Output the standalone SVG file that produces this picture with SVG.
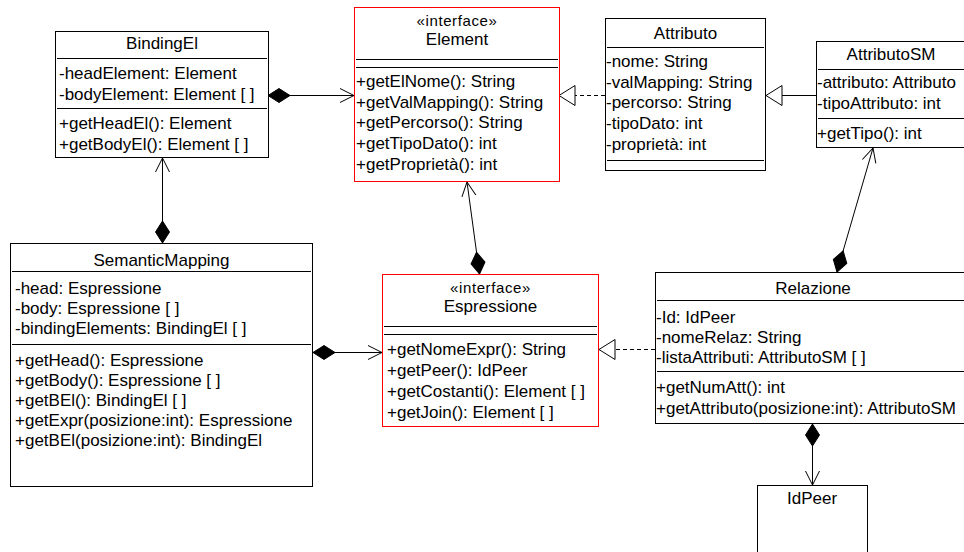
<svg xmlns="http://www.w3.org/2000/svg" width="964" height="552" viewBox="0 0 964 552">
<style>
  text { font-family: "Liberation Sans", Arial, sans-serif; font-size: 17px; fill: #000; }
  .t { text-anchor: middle; }
  .st { font-size: 15px; letter-spacing: 0.6px; }
  .box { fill: #fff; stroke: #000; stroke-width: 1; }
  .ibox { fill: #fff; stroke: #f00; stroke-width: 1; }
  .div { stroke: #000; stroke-width: 1; fill: none; }
  .con { stroke: #000; stroke-width: 1; fill: none; }
  .dash { stroke-dasharray: 4,3; }
</style>
<defs>
  <marker id="dia" viewBox="-1 -9 25 18" refX="0" refY="0" markerWidth="25" markerHeight="18" markerUnits="userSpaceOnUse" orient="auto">
    <path d="M0,0 L11,-7 L22,0 L11,7 Z" fill="#000" stroke="#000" stroke-width="1"/>
  </marker>
  <marker id="open" viewBox="-16 -9 18 18" refX="0" refY="0" markerWidth="18" markerHeight="18" markerUnits="userSpaceOnUse" orient="auto">
    <path d="M-14,-7 L0,0 L-14,7" fill="none" stroke="#000" stroke-width="1"/>
  </marker>
  <marker id="tri" viewBox="-18 -11 20 22" refX="0" refY="0" markerWidth="20" markerHeight="22" markerUnits="userSpaceOnUse" orient="auto">
    <path d="M-16,-10 L0,0 L-16,10 Z" fill="#fff" stroke="#000" stroke-width="1" stroke-dasharray="none"/>
  </marker>
</defs>

<g id="connectors">
  <path class="con" d="M268,95.5 L354,95.5" marker-start="url(#dia)" marker-end="url(#open)"/>
  <path class="con" d="M162.5,243 L162.5,158" marker-start="url(#dia)" marker-end="url(#open)"/>
  <path class="con" d="M313,352.5 L382,352.5" marker-start="url(#dia)" marker-end="url(#open)"/>
  <path class="con" d="M479.5,274 L467,182" marker-start="url(#dia)" marker-end="url(#open)"/>
  <path class="con" d="M837,272 L873,148" marker-start="url(#dia)" marker-end="url(#open)"/>
  <path class="con" d="M812.5,424 L812.5,485" marker-start="url(#dia)" marker-end="url(#open)"/>
  <path class="con" d="M816,95.5 L766,95.5" marker-end="url(#tri)"/>
  <path class="con dash" d="M605,95.5 L559,95.5" marker-end="url(#tri)"/>
  <path class="con dash" d="M655,349.5 L599,349.5" marker-end="url(#tri)"/>
</g>

<g id="BindingEl">
  <rect class="box" x="55.5" y="31.5" width="213" height="126"/>
  <text class="t" x="162" y="49">BindingEl</text>
  <line class="div" x1="57" y1="58.5" x2="267" y2="58.5"/>
  <text x="59" y="79">-headElement: Element</text>
  <text x="59" y="100">-bodyElement: Element [ ]</text>
  <line class="div" x1="57" y1="108.5" x2="267" y2="108.5"/>
  <text x="59" y="129">+getHeadEl(): Element</text>
  <text x="59" y="150">+getBodyEl(): Element [ ]</text>
</g>

<g id="Element">
  <rect class="ibox" x="354.5" y="7.5" width="205" height="174"/>
  <text class="t st" x="457" y="26">«interface»</text>
  <text class="t" x="457" y="44.5">Element</text>
  <line class="div" x1="356" y1="59.5" x2="558" y2="59.5"/>
  <line class="div" x1="356" y1="67.5" x2="558" y2="67.5"/>
  <text x="356" y="87">+getElNome(): String</text>
  <text x="356" y="108">+getValMapping(): String</text>
  <text x="356" y="128">+getPercorso(): String</text>
  <text x="356" y="149">+getTipoDato(): int</text>
  <text x="356" y="170">+getProprietà(): int</text>
</g>

<g id="Attributo">
  <rect class="box" x="605.5" y="18.5" width="160" height="152"/>
  <text class="t" x="685.5" y="39">Attributo</text>
  <line class="div" x1="607" y1="47.5" x2="764" y2="47.5"/>
  <text x="606" y="67">-nome: String</text>
  <text x="606" y="87.5">-valMapping: String</text>
  <text x="606" y="108">-percorso: String</text>
  <text x="606" y="129">-tipoDato: int</text>
  <text x="606" y="150">-proprietà: int</text>
  <line class="div" x1="607" y1="160.5" x2="764" y2="160.5"/>
</g>

<g id="AttributoSM">
  <rect class="box" x="816.5" y="41.5" width="150" height="106"/>
  <text class="t" x="891" y="60">AttributoSM</text>
  <line class="div" x1="818" y1="69.5" x2="966" y2="69.5"/>
  <text x="817" y="87.5">-attributo: Attributo</text>
  <text x="817" y="108.5">-tipoAttributo: int</text>
  <line class="div" x1="818" y1="118.5" x2="966" y2="118.5"/>
  <text x="817" y="138.5">+getTipo(): int</text>
</g>

<g id="SemanticMapping">
  <rect class="box" x="10.5" y="243.5" width="302" height="243"/>
  <text class="t" x="161.5" y="266">SemanticMapping</text>
  <line class="div" x1="12" y1="271.5" x2="311" y2="271.5"/>
  <text x="15" y="294">-head: Espressione</text>
  <text x="15" y="314">-body: Espressione [ ]</text>
  <text x="15" y="334">-bindingElements: BindingEl [ ]</text>
  <line class="div" x1="12" y1="344.5" x2="311" y2="344.5"/>
  <text x="15" y="366">+getHead(): Espressione</text>
  <text x="15" y="386">+getBody(): Espressione [ ]</text>
  <text x="15" y="406">+getBEl(): BindingEl [ ]</text>
  <text x="15" y="426">+getExpr(posizione:int): Espressione</text>
  <text x="15" y="446">+getBEl(posizione:int): BindingEl</text>
</g>

<g id="Espressione">
  <rect class="ibox" x="382.5" y="274.5" width="216" height="152"/>
  <text class="t st" x="490.5" y="293">«interface»</text>
  <text class="t" x="490.5" y="312">Espressione</text>
  <line class="div" x1="384" y1="326.5" x2="597" y2="326.5"/>
  <line class="div" x1="384" y1="334.5" x2="597" y2="334.5"/>
  <text x="387" y="355">+getNomeExpr(): String</text>
  <text x="387" y="376">+getPeer(): IdPeer</text>
  <text x="387" y="397">+getCostanti(): Element [ ]</text>
  <text x="387" y="418">+getJoin(): Element [ ]</text>
</g>

<g id="Relazione">
  <rect class="box" x="655.5" y="272.5" width="316" height="151"/>
  <text class="t" x="813" y="293.5">Relazione</text>
  <line class="div" x1="657" y1="300.5" x2="971" y2="300.5"/>
  <text x="656" y="323">-Id: IdPeer</text>
  <text x="656" y="343">-nomeRelaz: String</text>
  <text x="656" y="363">-listaAttributi: AttributoSM [ ]</text>
  <line class="div" x1="657" y1="371.5" x2="971" y2="371.5"/>
  <text x="656" y="393">+getNumAtt(): int</text>
  <text x="656" y="414">+getAttributo(posizione:int): AttributoSM</text>
</g>

<g id="IdPeer">
  <rect class="box" x="757.5" y="485.5" width="110" height="100"/>
  <text class="t" x="812" y="503.5">IdPeer</text>
</g>
</svg>
